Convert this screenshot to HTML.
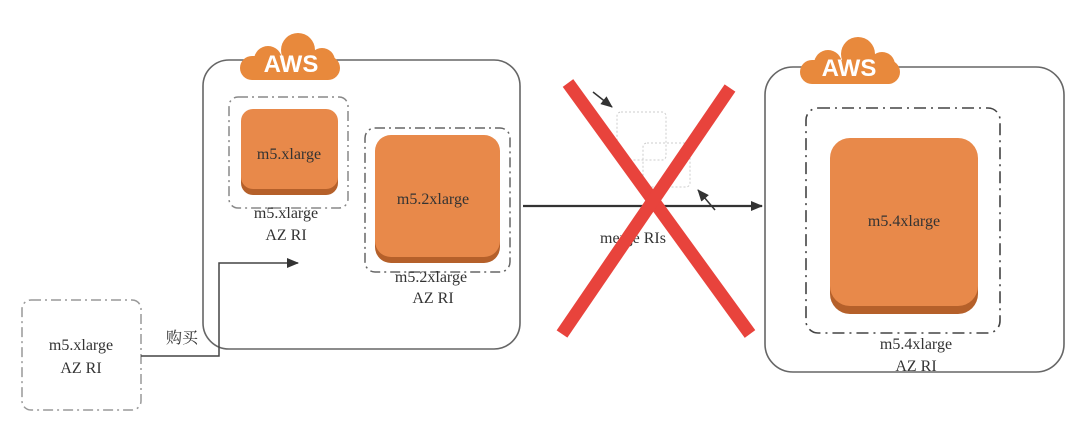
<!DOCTYPE html>
<html><head><meta charset="utf-8"><style>
html,body{margin:0;padding:0;background:#fff;}
svg{display:block;}
text{font-family:"Liberation Serif","Noto Serif CJK SC",serif;font-size:16px;fill:#333;}
.aws{font-family:"Liberation Sans",sans-serif;font-weight:bold;font-size:24px;fill:#fff;}
</style></head><body>
<svg width="1080" height="443" viewBox="0 0 1080 443">
<defs>
<marker id="ah" markerWidth="12" markerHeight="10" refX="11" refY="5" orient="auto" markerUnits="userSpaceOnUse">
<path d="M0,0 L12,5 L0,10 Z" fill="#333"/></marker>
<g id="cloud">
<circle cx="58" cy="18" r="17"/>
<circle cx="28" cy="28" r="14"/>
<circle cx="82" cy="29" r="13"/>
<rect x="0" y="24" width="100" height="24" rx="12"/>
</g>
</defs>
<rect x="203" y="60" width="317" height="289" rx="26" fill="none" stroke="#666" stroke-width="1.6"/>
<use href="#cloud" x="240" y="32" fill="#e8893c"/>
<text class="aws" x="291" y="72" text-anchor="middle">AWS</text>
<rect x="229" y="97" width="119" height="111" rx="9" fill="none" stroke="#888" stroke-width="1.5" stroke-dasharray="10,4,2,4"/>
<rect x="241" y="112" width="97" height="83" rx="12" fill="#b5602a"/>
<rect x="241" y="109" width="97" height="80" rx="12" fill="#e8894a"/>
<text x="289" y="159" text-anchor="middle">m5.xlarge</text>
<text x="286" y="218" text-anchor="middle">m5.xlarge</text>
<text x="286" y="240" text-anchor="middle">AZ RI</text>
<rect x="365" y="128" width="145" height="144" rx="10" fill="none" stroke="#666" stroke-width="1.5" stroke-dasharray="10,4,2,4"/>
<rect x="375" y="139" width="125" height="124" rx="16" fill="#b5602a"/>
<rect x="375" y="135" width="125" height="122" rx="16" fill="#e8894a"/>
<text x="433" y="204" text-anchor="middle">m5.2xlarge</text>
<text x="431" y="282" text-anchor="middle">m5.2xlarge</text>
<text x="433" y="303" text-anchor="middle">AZ RI</text>
<rect x="22" y="300" width="119" height="110" rx="9" fill="none" stroke="#999" stroke-width="1.5" stroke-dasharray="10,4,2,4"/>
<text x="81" y="350" text-anchor="middle">m5.xlarge</text>
<text x="81" y="373" text-anchor="middle">AZ RI</text>
<polyline points="141,356 219,356 219,263 298,263" fill="none" stroke="#444" stroke-width="1.5" marker-end="url(#ah)"/>
<text x="182" y="343" text-anchor="middle">购买</text>
<rect x="617" y="112" width="49" height="48" rx="4" fill="none" stroke="#ccc" stroke-dasharray="2,2"/>
<rect x="643" y="143" width="47" height="44" rx="4" fill="none" stroke="#ccc" stroke-dasharray="2,2"/>
<line x1="593" y1="92" x2="612" y2="107" stroke="#333" stroke-width="1.5" marker-end="url(#ah)"/>
<line x1="715" y1="210" x2="698" y2="190" stroke="#333" stroke-width="1.5" marker-end="url(#ah)"/>
<line x1="523" y1="206" x2="762" y2="206" stroke="#333" stroke-width="2.2" marker-end="url(#ah)"/>
<text x="633" y="243" text-anchor="middle">merge RIs</text>
<line x1="568" y1="83" x2="750" y2="334" stroke="#e8433c" stroke-width="13"/>
<line x1="730" y1="88" x2="562" y2="334" stroke="#e8433c" stroke-width="13"/>
<rect x="765" y="67" width="299" height="305" rx="28" fill="none" stroke="#666" stroke-width="1.6"/>
<use href="#cloud" x="800" y="36" fill="#e8893c"/>
<text class="aws" x="849" y="76" text-anchor="middle">AWS</text>
<rect x="806" y="108" width="194" height="225" rx="12" fill="none" stroke="#444" stroke-width="1.6" stroke-dasharray="12,5,2,5"/>
<rect x="830" y="142" width="148" height="172" rx="20" fill="#b5602a"/>
<rect x="830" y="138" width="148" height="168" rx="20" fill="#e8894a"/>
<text x="904" y="226" text-anchor="middle">m5.4xlarge</text>
<text x="916" y="349" text-anchor="middle">m5.4xlarge</text>
<text x="916" y="371" text-anchor="middle">AZ RI</text>
</svg>
</body></html>
